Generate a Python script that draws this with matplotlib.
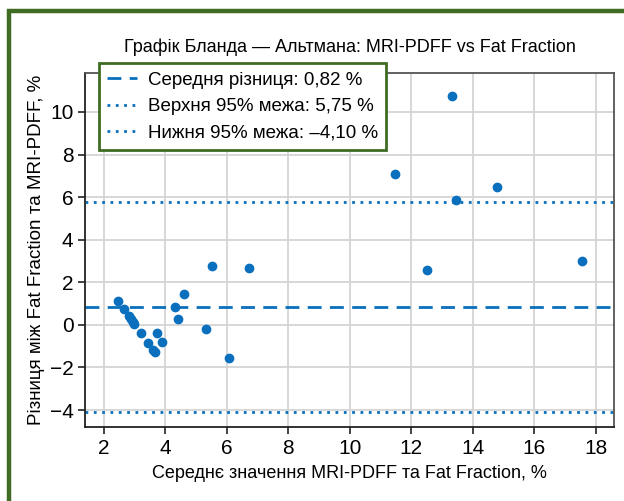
import matplotlib
matplotlib.use("Agg")
import matplotlib.pyplot as plt
from matplotlib.patches import Rectangle

# means and differences (%)
mean_vals = [2.46, 2.67, 2.81, 2.89, 2.94, 2.99, 3.22, 3.45, 3.60, 3.66, 3.72, 3.90,
             4.33, 4.40, 4.62, 5.32, 5.51, 6.09, 6.71, 11.47, 12.53, 13.32, 13.47,
             14.78, 17.55]
diff_vals = [1.14, 0.73, 0.42, 0.26, 0.14, 0.06, -0.37, -0.87, -1.18, -1.27, -0.37, -0.79,
             0.86, 0.26, 1.44, -0.18, 2.77, -1.55, 2.67, 7.07, 2.58, 10.75, 5.88,
             6.49, 3.00]
mean_diff = 0.82
upper_loa = 5.75
lower_loa = -4.10
x_ticks = [2, 4, 6, 8, 10, 12, 14, 16, 18]
y_ticks = [-4, -2, 0, 2, 4, 6, 8, 10]

blue = "#0a6fbd"
green = "#3f6b22"

plt.rcParams['font.family'] = ['Liberation Sans', 'DejaVu Sans']
plt.rcParams['font.size'] = 13

fig = plt.figure(figsize=(6.24, 5.01), dpi=100)
ax = fig.add_axes([0.1367, 0.1471, 0.8478, 0.7072])

# green frame around the whole figure (cut on right and bottom like the source)
fig.patches.append(Rectangle((0.0145, -0.05), 1.2, 1.029, transform=fig.transFigure,
                             fill=False, edgecolor=green, linewidth=3.2, zorder=0))

ax.scatter(mean_vals, diff_vals, s=36, color=blue, zorder=3)
ax.axhline(mean_diff, color=blue, linestyle=(0, (5, 3)), linewidth=2,
           label="Середня різниця: 0,82 %")
ax.axhline(upper_loa, color=blue, linestyle=(0, (1, 2)), linewidth=2,
           label="Верхня 95% межа: 5,75 %")
ax.axhline(lower_loa, color=blue, linestyle=(0, (1, 2)), linewidth=2,
           label="Нижня 95% межа: –4,10 %")

ax.set_xlim(1.4, 18.61)
ax.set_ylim(-4.81, 11.83)
ax.set_xticks(x_ticks)
ax.set_yticks(y_ticks)
ax.grid(True, color="#d4d4d4", linewidth=1.3)
ax.set_axisbelow(True)
for side in ["left", "bottom"]:
    ax.spines[side].set_color("#222222")
    ax.spines[side].set_linewidth(1.3)
for side in ["top", "right"]:
    ax.spines[side].set_color("#555555")
    ax.spines[side].set_linewidth(1.3)
ax.tick_params(direction="out", length=5, width=1.2, color="#222222", labelsize=15)

ax.set_title("Графік Бланда — Альтмана: MRI-PDFF vs Fat Fraction", fontsize=13, pad=15)
ax.set_xlabel("Середнє значення MRI-PDFF та Fat Fraction, %", fontsize=13, labelpad=5)
ax.set_ylabel("Різниця між Fat Fraction та MRI-PDFF, %", fontsize=13.5, labelpad=3)

leg = ax.legend(loc="upper left", bbox_to_anchor=(0.026, 1.028), borderaxespad=0,
                fancybox=False, framealpha=1, fontsize=13.5, handlelength=1.55,
                handletextpad=0.6, labelspacing=0.5, borderpad=0.45)
leg.get_frame().set_edgecolor(green)
leg.get_frame().set_linewidth(2)

fig.savefig("out.png", dpi=100)
